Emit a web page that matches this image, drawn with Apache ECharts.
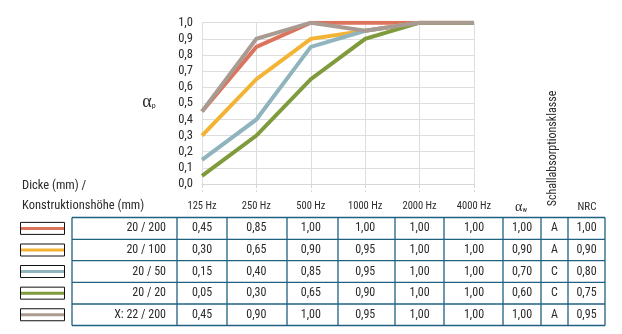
<!DOCTYPE html>
<html><head><meta charset="utf-8">
<script src="https://cdn.jsdelivr.net/npm/echarts@6/dist/echarts.min.js"></script>
<style>html,body{margin:0;padding:0;background:#fff}#c{width:622px;height:334px}</style>
</head><body><div id="c"></div>
<script>
// ---- data ----
var categories = ['125 Hz','250 Hz','500 Hz','1000 Hz','2000 Hz','4000 Hz'];
var seriesNames = ['20 / 200','20 / 100','20 / 50','20 / 20','X: 22 / 200'];
var s1 = [0.45,0.85,1.00,1.00,1.00,1.00];
var s2 = [0.30,0.65,0.90,0.95,1.00,1.00];
var s3 = [0.15,0.40,0.85,0.95,1.00,1.00];
var s4 = [0.05,0.30,0.65,0.90,1.00,1.00];
var s5 = [0.45,0.90,1.00,0.95,1.00,1.00];
var alphaW = [1.00,0.90,0.70,0.60,1.00];
var classes = ['A','A','C','C','A'];
var nrc = [1.00,0.90,0.80,0.75,0.95];

var colors = ['#DC735D','#F3B334','#8FB4BE','#7F9B3C','#A99B91'];
var allSeries = [s1,s2,s3,s4,s5];
var FONT = '"Roboto Condensed","DejaVu Sans Condensed",sans-serif';
var TXT = '#2b2b2b';
function fmt(v,d){return v.toFixed(d).replace('.',',');}

var chart = echarts.init(document.getElementById('c'));
var option = {
  animation:false,
  grid:{left:202,right:148,top:22.7,bottom:150,containLabel:false},
  xAxis:{type:'category',data:categories,boundaryGap:false,
    axisLine:{show:true,lineStyle:{color:'#d6d6d6',width:1}},
    axisTick:{show:true,length:8,lineStyle:{color:'#d6d6d6',type:'dashed'}},
    axisLabel:{show:true,color:TXT,fontFamily:FONT,fontSize:10.5,margin:17},
    splitLine:{show:true,lineStyle:{color:'#dedede',width:1}}},
  yAxis:{type:'value',min:0,max:1,interval:0.1,
    axisLine:{show:false},axisTick:{show:false},
    axisLabel:{color:TXT,fontFamily:FONT,fontSize:12.5,margin:9,formatter:function(v){return fmt(v,1);}},
    splitLine:{show:true,lineStyle:{color:'#dedede',width:1}}},
  series: allSeries.map(function(d,i){return {type:'line',name:seriesNames[i],data:d,showSymbol:false,symbol:'none',
    lineStyle:{color:colors[i],width:4,join:'miter'},z:2+i};})
};
chart.setOption(option);

// ---- table & labels via graphic ----
var g = [];
var colX = [72,177,227,287,338,395,444,503,541,568,605];
var rowY = [217.5,239.3,260.7,282.3,304,325.5];
var border = '#206080';
rowY.forEach(function(y){g.push({type:'line',shape:{x1:colX[0],y1:y,x2:colX[colX.length-1],y2:y},style:{stroke:border,lineWidth:1.3},z:10});});
colX.forEach(function(x){g.push({type:'line',shape:{x1:x,y1:rowY[0],x2:x,y2:rowY[rowY.length-1]},style:{stroke:border,lineWidth:1.3},z:10});});
var catX = categories.map(function(c){return chart.convertToPixel({xAxisIndex:0},c);});
var extraX = [(colX[7]+colX[8])/2,(colX[8]+colX[9])/2,(colX[9]+colX[10])/2];
function txt(x,y,s,align,size){g.push({type:'text',x:x,y:y,style:{text:s,fill:TXT,font:(size||12)+'px '+FONT,textAlign:align||'center',textVerticalAlign:'middle'},z:11});}
for(var r=0;r<5;r++){
  var cy=(rowY[r]+rowY[r+1])/2;
  txt(166,cy,seriesNames[r],'right');
  allSeries[r].forEach(function(v,j){txt(catX[j],cy,fmt(v,2));});
  txt(extraX[0],cy,fmt(alphaW[r],2));
  txt(extraX[1],cy,classes[r]);
  txt(extraX[2],cy,fmt(nrc[r],2));
  g.push({type:'rect',shape:{x:20.5,y:cy-6,width:44,height:12},style:{fill:'#fff',stroke:'#111',lineWidth:1},z:10});
  g.push({type:'line',shape:{x1:21,y1:cy,x2:64,y2:cy},style:{stroke:colors[r],lineWidth:3},z:11});
}
// headers
txt(22,186,'Dicke (mm) /','left',12.5);
txt(22,206,'Konstruktionshöhe (mm)','left',12.5);
txt(587,207,'NRC','center',11);
g.push({type:'text',x:521,y:207,style:{text:'{a|α}{s|w}',rich:{a:{font:'14px "Liberation Serif",serif',fill:TXT},s:{font:'7px '+FONT,fill:TXT,padding:[6,0,0,0]}},textAlign:'center',textVerticalAlign:'middle'},z:11});
g.push({type:'text',x:149,y:102,style:{text:'{a|α}{s|p}',rich:{a:{font:'18px "Liberation Serif",serif',fill:TXT},s:{font:'8px '+FONT,fill:TXT,padding:[7,0,0,0]}},textAlign:'center',textVerticalAlign:'middle'},z:11});
g.push({type:'text',x:553,y:148.5,rotation:Math.PI/2,style:{text:'Schallabsorptionsklasse',fill:TXT,font:'12px '+FONT,textAlign:'center',textVerticalAlign:'middle'},z:11});
chart.setOption({graphic:g});
</script></body></html>
